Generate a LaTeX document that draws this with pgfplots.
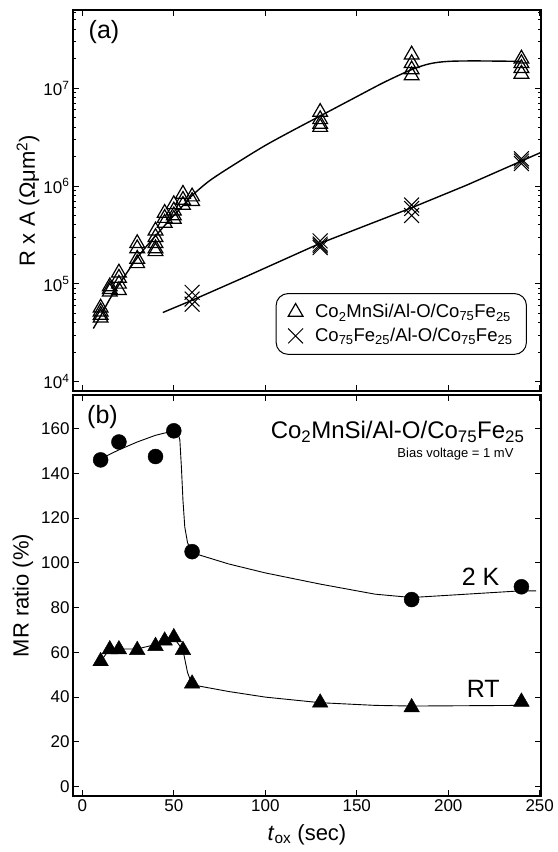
\documentclass[border=0pt]{standalone}
\usepackage{fontspec}
\setmainfont{Liberation Sans}
\usepackage{pgfplots}
\pgfplotsset{compat=1.18}

\pgfplotsset{
  panel/.style={
    scale only axis, width=468bp,
    xmin=-5.1, xmax=250.7,
    axis line style={line width=1.3bp},
    tick style={line width=1bp, black},
    major tick length=6bp, minor tick length=3.5bp,
    tick align=inside,
    xtick={0,50,...,250},
    tick label style={font=\fontsize{17bp}{19bp}\selectfont},
    /pgf/number format/assume math mode=true,
    label style={font=\fontsize{22bp}{24bp}\selectfont},
    clip=false,
  },
}

\begin{document}
\begin{tikzpicture}
\begin{axis}[panel, name=top, at={(0,0)}, anchor=north west,
  height=381bp,
  ymode=log, ymin=8.04e3, ymax=6.3e7,
  xticklabels={},
  ytick={1e4,1e5,1e6,1e7},
  yticklabels={10\textsuperscript{4},10\textsuperscript{5},10\textsuperscript{6},10\textsuperscript{7}},
  minor ytick={2e4,3e4,4e4,5e4,6e4,7e4,8e4,9e4,2e5,3e5,4e5,5e5,6e5,7e5,8e5,9e5,
               2e6,3e6,4e6,5e6,6e6,7e6,8e6,9e6,2e7,3e7,4e7,5e7,6e7},
  ylabel={R x A (Ωμm\textsuperscript{2})},
  ylabel style={at={(axis description cs:-0.0962,0.5)}, anchor=center},
  legend style={at={(rel axis cs:0.970,0.257)}, anchor=north east,
    draw=black, line width=1bp, rounded corners=12bp,
    font=\fontsize{18.5bp}{21bp}\selectfont,
    inner xsep=12bp, inner ysep=9bp, row sep=5bp,
    /tikz/every odd column/.append style={column sep=10bp}},
  legend cell align=left,
  legend image code/.code={\draw[#1] plot coordinates {(0bp,0bp)};
    \path (-7bp,0bp) (7bp,0bp);},
]
% Co2MnSi/Al-O/Co75Fe25
\addplot[only marks, mark=triangle, mark size=8.5bp, mark options={line width=1.2bp}] coordinates {
  (10,5.7e4) (10,5.2e4) (10,4.8e4) (10,4.5e4)
  (15,9.4e4) (15,8.8e4) (15,8.3e4)
  (20,1.3e5) (20,1.15e5) (20,1.0e5) (20,8.6e4)
  (30,2.6e5) (30,2.3e5) (30,1.8e5) (30,1.62e5)
  (40,3.5e5) (40,3.0e5) (40,2.6e5) (40,2.3e5) (40,2.15e5)
  (45,5.3e5) (45,4.7e5) (45,4.2e5)
  (50,6.5e5) (50,5.6e5) (50,5.0e5) (50,4.6e5)
  (55,8.3e5) (55,7.2e5) (55,6.4e5)
  (60,7.8e5) (60,7.0e5)
  (130,5.7e6) (130,4.8e6) (130,4.3e6) (130,4.0e6)
  (180,2.2e7) (180,1.8e7) (180,1.55e7) (180,1.35e7)
  (240,2.0e7) (240,1.8e7) (240,1.6e7) (240,1.4e7)
};
\addlegendentry{Co\textsubscript{2}MnSi/Al-O/Co\textsubscript{75}Fe\textsubscript{25}}
% Co75Fe25/Al-O/Co75Fe25
\addplot[only marks, mark=x, mark size=10.5bp, mark options={line width=1bp}] coordinates {
  (60,8.2e4) (60,7.0e4) (60,6.2e4)
  (130,2.75e5) (130,2.55e5) (130,2.45e5) (130,2.35e5)
  (180,6.4e5) (180,5.9e5) (180,5.0e5)
  (240,1.9e6) (240,1.8e6) (240,1.7e6)
};
\addlegendentry{Co\textsubscript{75}Fe\textsubscript{25}/Al-O/Co\textsubscript{75}Fe\textsubscript{25}}
% fit lines
\addplot[smooth, line width=1.4bp, forget plot] coordinates {
  (6,3.5e4) (10,4.7e4) (15,7.0e4) (20,9.8e4) (30,1.85e5) (40,3.1e5) (50,5.0e5)
  (55,6.3e5) (60,8.0e5) (70,1.15e6) (85,1.75e6) (100,2.6e6) (115,3.7e6)
  (130,5.2e6) (150,8.2e6) (165,1.15e7) (180,1.55e7) (190,1.78e7) (200,1.88e7)
  (215,1.9e7) (240,1.88e7)
};
\addplot[line width=1.4bp, forget plot] coordinates {
  (44,5.1e4) (60,6.8e4) (90,1.2e5) (130,2.6e5) (180,6.0e5) (210,1.02e6)
  (240,1.8e6) (250.5,2.2e6)
};
\node[font=\fontsize{25bp}{27bp}\selectfont] at (rel axis cs:0.0662,0.942) {(a)};
\coordinate (tl) at (rel axis cs:0,1);
\end{axis}

\begin{axis}[panel, name=bot, at={(0,-385bp)}, anchor=north west,
  height=401bp,
  ymin=-4.2, ymax=175,
  ytick={0,20,...,160},
  xlabel={\textit{t}\textsubscript{ox} (sec)},
  xlabel style={at={(axis description cs:0.5,-0.0973)}, anchor=center},
  ylabel={MR ratio (\%)},
  ylabel style={at={(axis description cs:-0.1068,0.5)}, anchor=center},
]
% 2 K
\addplot[only marks, mark=*, mark size=7.5bp] coordinates {
  (10,146) (20,154) (40,147.5) (50,159) (60,105) (180,83.6) (240,89.3)
};
\addplot[line width=0.9bp] coordinates {
  (10,146.5) (20,150.5) (30,154) (40,157) (50,159) (52,158.5) (53.3,155)
  (54.2,142) (55,128) (56,116) (57.5,109) (60,104.5) (80,99.5) (100,95.5)
  (130,90.5) (160,86) (180,84.5) (200,85.5) (220,86.5) (240,87.5) (248,87.5)
};
% RT
\addplot[only marks, mark=triangle*, mark size=9bp] coordinates {
  (10,56) (15,61.3) (20,61.3) (30,61) (40,62.8) (45,65.2) (50,66.7) (55,61)
  (60,46) (130,37.5) (180,35.4) (240,37.9)
};
\addplot[line width=0.9bp] coordinates {
  (10,56) (15,61.5) (20,61.5) (30,61.5) (40,63.5) (45,65.5) (50,66.5) (55,61)
  (57.5,51) (60,45.5) (80,42.5) (100,40) (130,37.5) (160,36.3) (180,36)
  (240,36.3)
};
\node[font=\fontsize{25bp}{27bp}\selectfont] at (rel axis cs:0.063,0.945) {(b)};
\node[font=\fontsize{24bp}{26bp}\selectfont, anchor=east] at (rel axis cs:0.972,0.9085)
  {Co\textsubscript{2}MnSi/Al-O/Co\textsubscript{75}Fe\textsubscript{25}};
\node[font=\fontsize{13bp}{15bp}\selectfont, anchor=east] at (rel axis cs:0.9487,0.852)
  {Bias voltage = 1 mV};
\node[font=\fontsize{25bp}{27bp}\selectfont] at (axis cs:217.7,93.8) {2 K};
\node[font=\fontsize{25bp}{27bp}\selectfont] at (axis cs:219.1,43.5) {RT};
\end{axis}
\path[use as bounding box] ([xshift=-73bp,yshift=10bp]tl) rectangle ([xshift=485bp,yshift=-842bp]tl);
\end{tikzpicture}
\end{document}
